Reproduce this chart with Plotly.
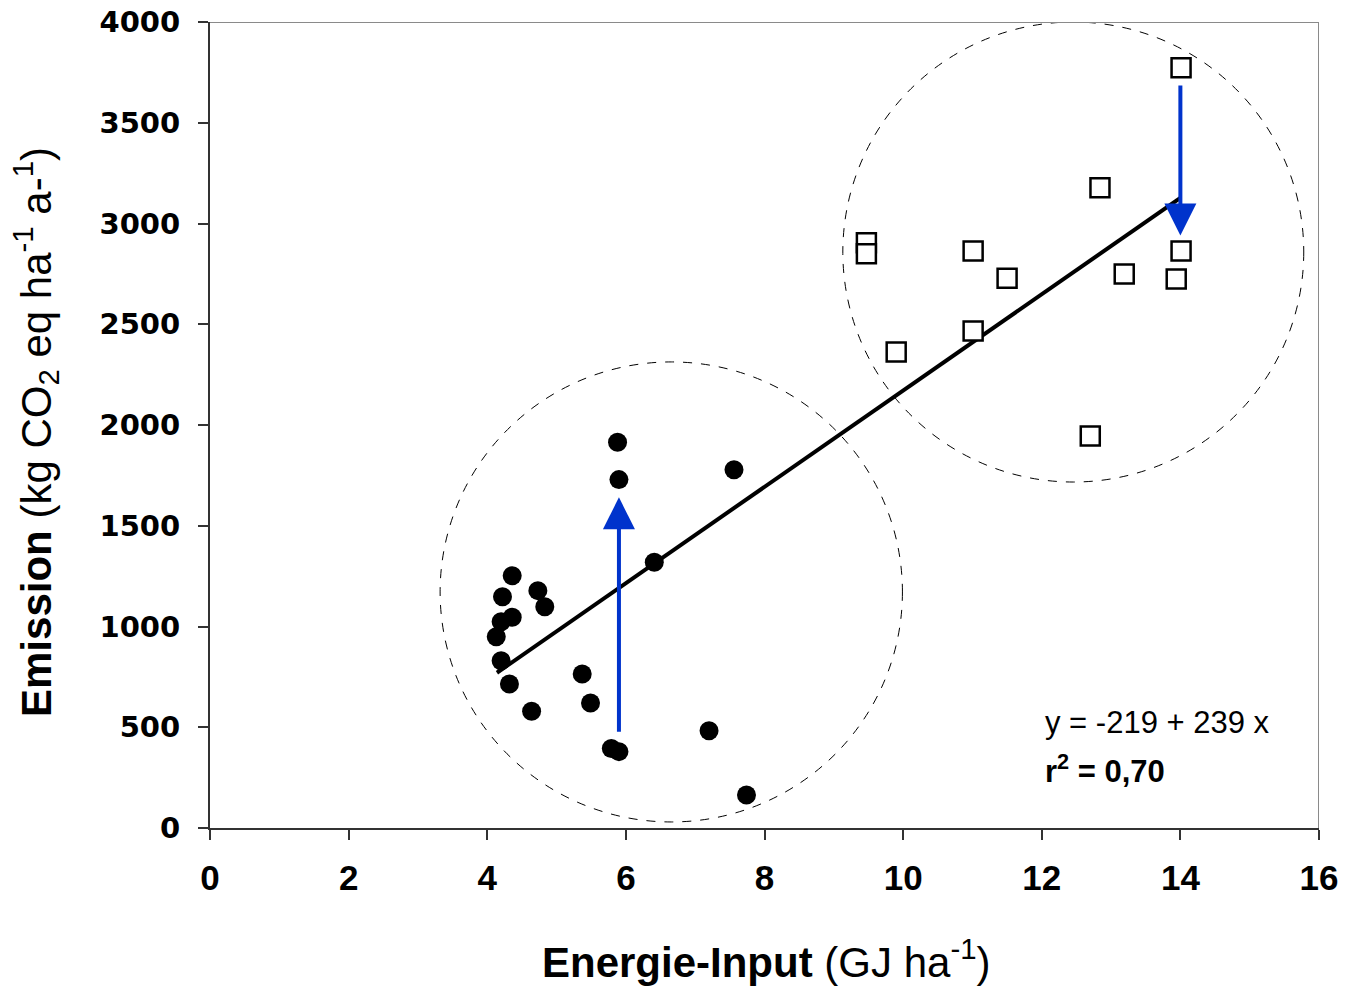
import plotly.graph_objects as go

# Low-input group (filled circles)
low_x = [5.88, 5.90, 7.56, 6.41, 4.36, 4.22, 4.73, 4.83, 4.36, 4.20,
         4.13, 4.20, 4.32, 4.64, 5.37, 5.49, 5.79, 5.90, 7.20, 7.74]
low_y = [1914, 1729, 1778, 1319, 1252, 1148, 1178, 1098, 1046, 1024,
         949, 830, 715, 579, 764, 620, 395, 379, 483, 164]

# High-input group (open squares)
high_x = [14.01, 12.84, 9.47, 9.47, 11.01, 11.50, 13.19, 14.01, 13.94, 11.01, 9.90, 12.70]
high_y = [3773, 3178, 2905, 2850, 2864, 2728, 2749, 2864, 2725, 2467, 2362, 1945]

# Regression y = a + b x
reg_a, reg_b = -219, 239
reg_x = [4.14, 14.0]
reg_y = [reg_a + reg_b * v for v in reg_x]

# Arrows (start -> end)
arrow_up = dict(x=5.9, y0=470, y1=1641)
arrow_down = dict(x=14.0, y0=3692, y1=2940)

# Dashed circles (x0, x1, y0, y1)
circle_low = (3.32, 9.99, 30, 2313)
circle_high = (9.13, 15.78, 1717, 4000)

x_ticks = [0, 2, 4, 6, 8, 10, 12, 14, 16]
y_ticks = [0, 500, 1000, 1500, 2000, 2500, 3000, 3500, 4000]

W, H = 1347, 988
L, R, T, B = 210, 1319, 22, 828  # plot-area pixel bounds


def px(x):
    return (x - L) / (R - L)


def py(y):
    return (B - y) / (B - T)


fig = go.Figure()

for (x0, x1, y0, y1) in (circle_low, circle_high):
    fig.add_shape(type="circle", xref="x", yref="y", x0=x0, x1=x1, y0=y0, y1=y1,
                  line=dict(color="black", width=1, dash="dash"), layer="above")

fig.add_trace(go.Scatter(x=reg_x, y=reg_y, mode="lines",
                         line=dict(color="black", width=4), showlegend=False, hoverinfo="skip"))
fig.add_trace(go.Scatter(x=low_x, y=low_y, mode="markers",
                         marker=dict(symbol="circle", size=19, color="black"), showlegend=False))
fig.add_trace(go.Scatter(x=high_x, y=high_y, mode="markers",
                         marker=dict(symbol="square", size=19, color="white",
                                     line=dict(color="black", width=2.5)), showlegend=False))

for a in (arrow_up, arrow_down):
    fig.add_annotation(x=a["x"], y=a["y1"], ax=a["x"], ay=a["y0"], xref="x", yref="y",
                       axref="x", ayref="y", showarrow=True, arrowhead=2, arrowsize=1.6,
                       arrowwidth=4, arrowcolor="#0033cc", text="", standoff=0)

fig.add_annotation(x=px(1043), y=py(722), xref="paper", yref="paper", text="y = -219 + 239 x",
                   showarrow=False, xanchor="left", yanchor="middle",
                   font=dict(family="Liberation Sans, Arial", size=31, color="black"))
fig.add_annotation(x=px(1043), y=py(769), xref="paper", yref="paper",
                   text="<b>r<sup>2</sup> = 0,70</b>",
                   showarrow=False, xanchor="left", yanchor="middle",
                   font=dict(family="Liberation Sans, Arial", size=31, color="black"))

fig.add_annotation(x=px(766), y=py(959), xref="paper", yref="paper",
                   text="<b>Energie-Input</b> (GJ ha<sup>-1</sup>)", showarrow=False,
                   xanchor="center", yanchor="middle",
                   font=dict(family="Liberation Sans, Arial", size=42, color="black"))
fig.add_annotation(x=px(35), y=py(432), xref="paper", yref="paper", textangle=-90,
                   text="<b>Emission</b> (kg CO<sub>2</sub> eq ha<sup>-1</sup> a-<sup>1</sup>)",
                   showarrow=False, xanchor="center", yanchor="middle",
                   font=dict(family="Liberation Sans, Arial", size=42, color="black"))

# gray frame top/right
fig.add_shape(type="line", xref="x", yref="y", x0=0, x1=16, y0=4000, y1=4000,
              line=dict(color="#8a8a8a", width=2))
fig.add_shape(type="line", xref="x", yref="y", x0=16, x1=16, y0=0, y1=4000,
              line=dict(color="#8a8a8a", width=2))

fig.update_layout(
    width=W, height=H, margin=dict(l=L, r=W - R, t=T, b=H - B),
    plot_bgcolor="white", paper_bgcolor="white",
    xaxis=dict(range=[0, 16], tickvals=x_ticks, ticktext=[str(v) for v in x_ticks],
               showgrid=False, zeroline=False, showline=True, linecolor="#333333", linewidth=2,
               ticks="outside", ticklen=10, tickcolor="#333333", tickwidth=1.5,
               ticklabelstandoff=8, automargin=False,
               tickfont=dict(family="Liberation Sans, Arial", size=35, color="black", weight="bold")),
    yaxis=dict(range=[0, 4000], tickvals=y_ticks, ticktext=[str(v) for v in y_ticks],
               showgrid=False, zeroline=False, showline=True, linecolor="#333333", linewidth=2,
               ticks="outside", ticklen=10, tickcolor="#333333", tickwidth=1.5,
               ticklabelstandoff=12, automargin=False,
               tickfont=dict(family="DejaVu Sans", size=29, color="black", weight="bold")),
)

fig.write_html("out.html")
